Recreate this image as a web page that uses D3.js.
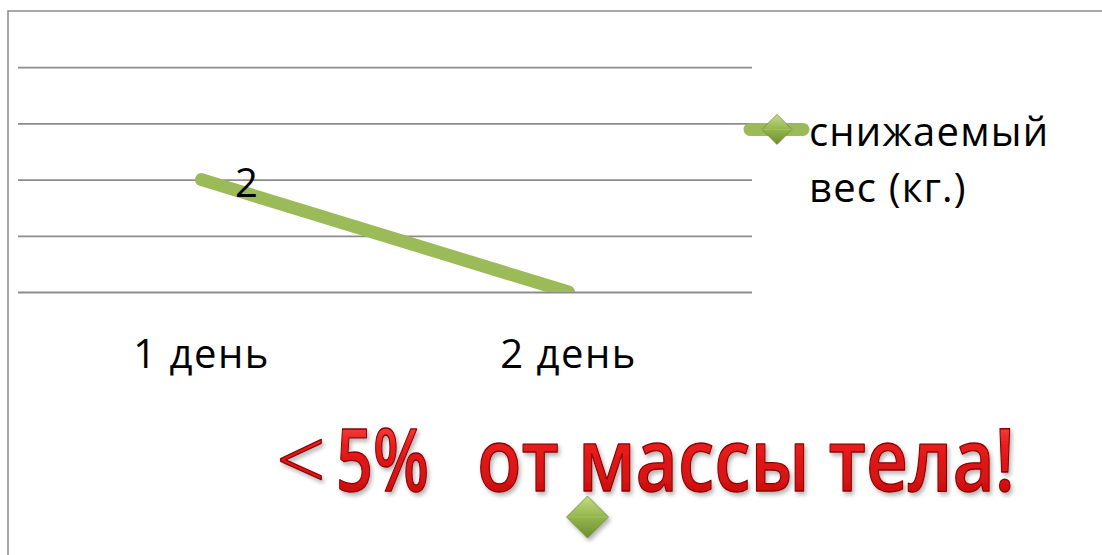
<!DOCTYPE html>
<html>
<head>
<meta charset="utf-8">
<script src="https://cdn.jsdelivr.net/npm/d3@7"></script>
<style>
  html, body { margin: 0; padding: 0; background: #fff; }
  svg { display: block; }
</style>
</head>
<body>
<svg id="chart" width="1102" height="555"></svg>
<script>
// Data
const categories = ["1 день", "2 день"];
const weightLost = [2, 0];
const valueLabels = ["2", ""];
const seriesName = ["снижаемый", "вес (кг.)"];
const gridValues = [0, 1, 2, 3, 4];
const headlineParts = ["<", "5%", "от массы тела!"];

const svg = d3.select("#chart");
const W = 1102, H = 555;
const font = "'Open Sans', 'Noto Sans', sans-serif";
const green = "#9bbb59";

// Plot area
const plot = { left: 18, right: 752, top: 11, bottom: 292 };

const x = d3.scaleBand().domain(categories).range([plot.left, plot.right]);
const y = d3.scaleLinear().domain([0, 5]).range([plot.bottom, plot.top]);

const defs = svg.append("defs");
defs.append("clipPath").attr("id", "plotClip")
  .append("rect")
  .attr("x", plot.left - 20).attr("y", plot.top)
  .attr("width", plot.right - plot.left + 40).attr("height", plot.bottom - plot.top);

// Diamond gradient
const dg = defs.append("linearGradient").attr("id", "diamondGrad")
  .attr("x1", 0).attr("y1", 0).attr("x2", 0).attr("y2", 1);
dg.append("stop").attr("offset", "0%").attr("stop-color", "#c4dc86");
dg.append("stop").attr("offset", "50%").attr("stop-color", "#93b54c");
dg.append("stop").attr("offset", "100%").attr("stop-color", "#6f8f2e");

// Headline gradient and shadow
const rg = defs.append("linearGradient").attr("id", "redGrad")
  .attr("x1", 0).attr("y1", 0).attr("x2", 0).attr("y2", 1);
rg.append("stop").attr("offset", "0%").attr("stop-color", "#ff6b6b");
rg.append("stop").attr("offset", "40%").attr("stop-color", "#e81c1c");
rg.append("stop").attr("offset", "100%").attr("stop-color", "#c00808");

const sh = defs.append("filter").attr("id", "shadow")
  .attr("x", "-10%").attr("y", "-20%").attr("width", "120%").attr("height", "150%");
sh.append("feDropShadow").attr("dx", 2).attr("dy", 3).attr("stdDeviation", 2)
  .attr("flood-color", "#000").attr("flood-opacity", 0.3);

// Chart frame (left and top edges)
svg.append("path")
  .attr("d", `M8,${H} L8,${plot.top} L${W},${plot.top}`)
  .attr("fill", "none").attr("stroke", "#8c8c8c").attr("stroke-width", 1.5);

// Horizontal gridlines
const yAxis = d3.axisLeft(y).tickValues(gridValues).tickSize(-(plot.right - plot.left)).tickFormat("");
const gy = svg.append("g").attr("transform", `translate(${plot.left},0)`).call(yAxis);
gy.select(".domain").remove();
gy.selectAll(".tick line").attr("stroke", "#8c8c8c").attr("stroke-width", 1.8);

// Category labels
const xAxis = d3.axisBottom(x).tickSize(0).tickPadding(0);
const gx = svg.append("g").attr("transform", `translate(0,${plot.bottom})`).call(xAxis);
gx.select(".domain").remove();
gx.selectAll(".tick text")
  .attr("dy", 0).attr("y", 76)
  .attr("font-family", font).attr("font-size", 40).attr("letter-spacing", 1.5)
  .attr("fill", "#000");

// Series line
const pts = categories.map((c, i) => [x(c) + x.bandwidth() / 2, y(weightLost[i])]);
svg.append("path")
  .attr("clip-path", "url(#plotClip)")
  .attr("d", d3.line()(pts))
  .attr("fill", "none").attr("stroke", green)
  .attr("stroke-width", 13).attr("stroke-linecap", "round");

// Value labels
svg.selectAll("text.val").data(categories).join("text")
  .attr("class", "val")
  .attr("x", (c) => x(c) + x.bandwidth() / 2 + 45)
  .attr("y", (c, i) => y(weightLost[i]) + 17)
  .attr("text-anchor", "middle")
  .attr("font-family", font).attr("font-size", 40).attr("fill", "#000")
  .text((c, i) => valueLabels[i]);

// Legend
function diamond(g, cx, cy, r) {
  g.append("path")
    .attr("d", `M${cx},${cy - r} L${cx + r},${cy} L${cx},${cy + r} L${cx - r},${cy} Z`)
    .attr("fill", "url(#diamondGrad)").attr("stroke", "#6d8a34").attr("stroke-width", 0.8);
  g.append("path")
    .attr("d", `M${cx - r},${cy} L${cx + r},${cy}`)
    .attr("stroke", "#b7d177").attr("stroke-width", 0.6).attr("opacity", 0.7);
}
const lg = svg.append("g");
const legY = y(3) + 6;
lg.append("line")
  .attr("x1", 750).attr("x2", 803).attr("y1", legY).attr("y2", legY)
  .attr("stroke", green).attr("stroke-width", 13).attr("stroke-linecap", "round");
diamond(lg, 777, legY, 15);
lg.selectAll("text").data(seriesName).join("text")
  .attr("x", 809)
  .attr("y", (d, i) => 146 + i * 56)
  .attr("font-family", font).attr("font-size", 40).attr("letter-spacing", 1.2)
  .attr("fill", "#000")
  .text((d) => d);

// Headline, set in three pieces, each fitted to its span
const spans = [
  { x0: 276, x1: 326, weight: 300 },
  { x0: 336, x1: 429, weight: 600 },
  { x0: 477, x1: 1015, weight: 600 }
];
const hg = svg.append("g").attr("filter", "url(#shadow)");
headlineParts.forEach((t, i) => {
  const s = spans[i];
  const g = hg.append("g");
  const txt = g.append("text")
    .attr("x", 0).attr("y", 0)
    .attr("font-family", font).attr("font-size", 86).attr("font-weight", s.weight)
    .attr("fill", "url(#redGrad)").attr("stroke", "#8a0000").attr("stroke-width", 1.3)
    .attr("stroke-linejoin", "round")
    .text(t);
  const bb = txt.node().getBBox();
  const w = txt.node().getComputedTextLength();
  const sx = (s.x1 - s.x0) / w;
  g.attr("transform", `translate(${s.x0},491) scale(${sx},1)`);
});

// Decorative marker under the headline
const dm = svg.append("g").attr("filter", "url(#shadow)");
diamond(dm, x(categories[1]) + x.bandwidth() / 2 + 19, 517, 21);
</script>
</body>
</html>
